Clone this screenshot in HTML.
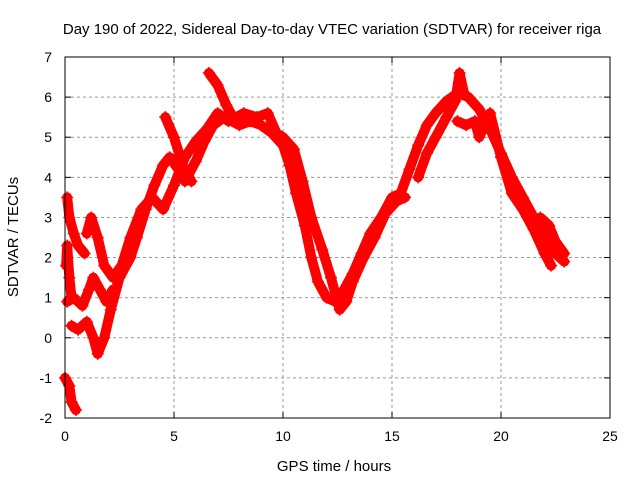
<!DOCTYPE html>
<html><head><meta charset="utf-8"><style>
body{margin:0;background:#fff;}
svg{display:block;font-family:"Liberation Sans",sans-serif;}
</style></head><body>
<svg id="chart" width="640" height="480">
<text x="332" y="34" text-anchor="middle" font-size="15">Day 190 of 2022, Sidereal Day-to-day VTEC variation (SDTVAR) for receiver riga</text>
<text x="334" y="471" text-anchor="middle" font-size="15">GPS time / hours</text>
<text transform="translate(18,237) rotate(-90)" text-anchor="middle" font-size="15">SDTVAR / TECUs</text>
<g id="grid"></g><g id="ticks"></g><g id="marks"></g>
<rect x="65" y="57" width="545" height="361" fill="none" stroke="#000" stroke-width="1"/>
</svg>
<script>
const xTicks=[0,5,10,15,20,25];
const yTicks=[-2,-1,0,1,2,3,4,5,6,7];
const trackA=[[0.3,0.3],[0.6,0.2],[1.0,0.4],[1.3,0.0],[1.5,-0.4],[1.8,0.0],[2.1,0.7],[2.5,1.5],[3.0,2.0],[3.3,2.5],[3.7,3.2],[4.1,3.8],[4.5,4.3],[4.8,4.5],[5.2,4.2],[5.5,3.9],[6.0,4.4],[6.4,4.9],[6.8,5.3],[7.3,5.5],[8.0,5.3],[8.5,5.4],[9.0,5.3],[9.5,5.1],[10.0,4.8],[10.3,4.3],[10.6,3.6],[11.0,2.8],[11.3,2.0],[11.6,1.4],[12.0,1.0],[12.4,0.9],[12.8,1.2],[13.2,1.6],[13.6,2.1],[14.0,2.6],[14.5,3.0],[15.0,3.5],[15.4,3.6],[15.8,4.2],[16.2,4.8],[16.6,5.3],[17.0,5.6],[17.5,5.9],[18.0,6.1],[18.5,6.0],[19.0,5.7],[19.5,5.2],[20.0,4.6],[20.5,4.0],[21.0,3.5],[21.5,3.0],[22.0,2.5],[22.5,2.1],[22.9,1.9]];
const trackB=[[1.0,2.6],[1.2,3.0],[1.5,2.5],[1.8,1.8],[2.2,1.5],[2.6,1.8],[3.0,2.5],[3.5,3.2],[4.0,3.5],[4.5,3.2],[5.0,3.8],[5.5,4.5],[6.0,4.9],[6.5,5.2],[7.0,5.6],[7.5,5.4],[8.2,5.6],[8.8,5.5],[9.3,5.6],[9.7,5.1],[10.0,5.0],[10.5,4.7],[10.9,3.9],[11.3,3.0],[11.8,2.2],[12.2,1.5],[12.6,0.7],[12.9,0.9],[13.2,1.4],[13.7,2.0],[14.2,2.5],[14.7,3.1],[15.2,3.4],[15.6,3.5]];
const trackC=[[0.1,3.5],[0.2,3.0],[0.4,2.6],[0.6,2.3],[0.9,2.1]];
const trackD=[[0.05,1.8],[0.1,2.3],[0.2,1.5],[0.3,1.0],[0.1,0.9],[0.4,1.0],[0.8,0.8],[1.1,1.2],[1.3,1.5],[1.6,1.2],[1.9,0.9],[2.2,1.2]];
const trackE=[[0.0,-1.0],[0.2,-1.2],[0.3,-1.6],[0.5,-1.8]];
const trackF=[[4.6,5.5],[5.0,5.0],[5.4,4.3],[5.8,3.9]];
const trackG=[[6.6,6.6],[7.0,6.3],[7.4,5.8],[7.8,5.4]];
const trackH=[[16.2,4.0],[16.6,4.6],[17.0,5.0],[17.5,5.5],[17.9,5.9],[18.1,6.6],[18.3,6.1]];
const trackI=[[18.0,5.4],[18.4,5.3],[18.8,5.4],[19.0,5.0],[19.5,5.6],[20.0,4.5],[20.5,3.6],[21.0,3.2],[21.5,2.7],[22.0,2.1],[22.3,1.8]];
const trackJ=[[21.8,3.0],[22.2,2.8],[22.5,2.4],[22.9,2.1]];
const tracks=[trackA,trackB,trackC,trackD,trackE,trackF,trackG,trackH,trackI,trackJ];
const X=h=>65+h*(545/25), Y=v=>57+(7-v)*(361/9);
const NS='http://www.w3.org/2000/svg';
const grid=document.getElementById('grid'),ticks=document.getElementById('ticks'),marks=document.getElementById('marks');
function mk(t,a,p){const e=document.createElementNS(NS,t);for(const k in a)e.setAttribute(k,a[k]);p.appendChild(e);return e;}
xTicks.forEach(t=>{const x=X(t);
 if(t>0&&t<25){const g=mk('line',{x1:x,y1:57,x2:x,y2:418,stroke:'#999','stroke-dasharray':'3,3'},grid);
 
 }
 mk('line',{x1:x,y1:418,x2:x,y2:412,stroke:'#000'},ticks);mk('line',{x1:x,y1:57,x2:x,y2:63,stroke:'#000'},ticks);
 const l=mk('text',{x:x,y:441,'text-anchor':'middle','font-size':14},ticks);l.textContent=t;
 
 });
yTicks.forEach(t=>{const y=Y(t);
 if(t>-2&&t<7){const g=mk('line',{x1:65,y1:y,x2:610,y2:y,stroke:'#999','stroke-dasharray':'3,3'},grid);
 
 }
 mk('line',{x1:65,y1:y,x2:71,y2:y,stroke:'#000'},ticks);mk('line',{x1:610,y1:y,x2:604,y2:y,stroke:'#000'},ticks);
 const l=mk('text',{x:52,y:y+5,'text-anchor':'end','font-size':14},ticks);l.textContent=t;
 
 });
tracks.forEach((tr,i)=>{
 const pl=mk('polyline',{points:tr.map(p=>X(p[0])+','+Y(p[1])).join(' '),fill:'none',stroke:'#f00','stroke-width':10,'stroke-linejoin':'round','stroke-linecap':'round'},marks);
 
 
 tr.forEach(p=>{const x=X(p[0]),y=Y(p[1]);
  const m=mk('path',{d:`M${x-6},${y}H${x+6}M${x},${y-6}V${y+6}`,stroke:'#f00','stroke-width':1.5},marks);
  
  });
});
</script>
</body></html>
